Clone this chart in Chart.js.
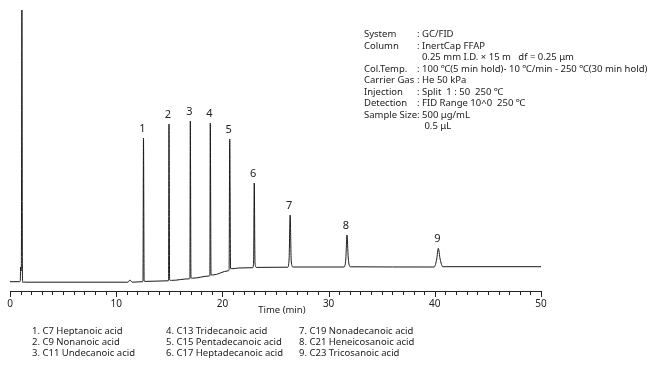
<!DOCTYPE html>
<html>
<head>
<meta charset="utf-8">
<script src="https://cdn.jsdelivr.net/npm/chart.js@4.4.1/dist/chart.umd.min.js"></script>
<style>
  body { margin: 0; background: #fff; }
  #wrap { position: relative; width: 662px; height: 370px; font-family: "Noto Sans", sans-serif; color: #222; }
  #info { position: absolute; left: 364px; top: 28px; font-size: 9.5px; line-height: 11.5px; white-space: nowrap; }
  #info .k { display: inline-block; width: 53px; }
  .leg { position: absolute; top: 325px; font-size: 9.5px; line-height: 11.2px; white-space: nowrap; }
</style>
</head>
<body>
<div id="wrap">
  <canvas id="myChart"></canvas>
  <div id="info"></div>
  <div id="legend1" class="leg" style="left:32px"></div>
  <div id="legend2" class="leg" style="left:166px"></div>
  <div id="legend3" class="leg" style="left:299px"></div>
</div>
<script>
// retention time (min) and detector signal of the trace
const traceTime = [0, 0.9, 0.97, 1.0, 1.04, 1.07, 1.12, 1.17, 1.22, 1.3, 1.4, 5, 11.1, 11.3, 11.5,
  12.45, 12.52, 12.57, 12.63, 12.8,
  14.88, 14.93, 14.97, 15.03, 15.2,
  16.88, 16.94, 16.98, 17.04, 17.2,
  18.76, 18.82, 18.86, 18.93, 19.1,
  20.55, 20.63, 20.69, 20.77, 21.0, 21.5,
  22.85, 22.94, 23.0, 23.07, 23.2,
  26.15, 26.28, 26.38, 26.48, 26.65,
  31.45, 31.62, 31.73, 31.85, 32.05,
  39.95, 40.18, 40.33, 40.5, 40.75, 50];
const traceSignal = [9.3, 9.3, 10, 24, 20, 26, 281, 14, 8.3, 9.2, 8.8, 8.8, 8.8, 11, 8.8,
  9.3, 9.6, 153, 10, 9.6,
  10.2, 10.6, 167, 11, 10.6,
  12.2, 12.6, 170, 13.2, 12.8,
  15.0, 15.5, 168, 16.2, 16.0,
  20.2, 21, 152, 22.5, 22.3, 23,
  23.3, 30, 108, 28, 23.6,
  23.8, 32, 76, 30, 24,
  24, 32, 56, 33, 24.2,
  24, 32, 42.7, 32, 24.3, 24.3];

// peak labels
const peakNames = ["1", "2", "3", "4", "5", "6", "7", "8", "9"];
const peakTimes = [12.57, 14.97, 16.98, 18.86, 20.69, 23.0, 26.38, 31.73, 40.33];
const peakHeights = [153, 167, 170, 168, 152, 108, 76, 56, 42.7];

// axis
const xMin = 0, xMax = 50;
const xTickLabels = [0, 10, 20, 30, 40, 50];
const xTitle = "Time (min)";

const conditionKeys = ["System", "Column", "", "Col.Temp.", "Carrier Gas", "Injection", "Detection", "Sample Size", ""];
const conditionValues = [": GC/FID", ": InertCap FFAP", "\u00a0\u00a00.25 mm I.D. × 15 m\u00a0\u00a0\u00a0df = 0.25 μm",
  ": 100 ℃(5 min hold)- 10 ℃/min - 250 ℃(30 min hold)", ": He 50 kPa", ": Split\u00a0\u00a01 : 50\u00a0\u00a0250 ℃",
  ": FID Range 10^0\u00a0\u00a0250 ℃", ": 500 μg/mL", "\u00a0\u00a0\u00a00.5 μL"];

const compounds = ["1. C7 Heptanoic acid", "2. C9 Nonanoic acid", "3. C11 Undecanoic acid",
  "4. C13 Tridecanoic acid", "5. C15 Pentadecanoic acid", "6. C17 Heptadecanoic acid",
  "7. C19 Nonadecanoic acid", "8. C21 Heneicosanoic acid", "9. C23 Tricosanoic acid"];

// conditions text
let infoHtml = "";
for (let i = 0; i < conditionKeys.length; i++) {
  infoHtml += '<div><span class="k">' + conditionKeys[i] + '</span>' + conditionValues[i] + '</div>';
}
document.getElementById("info").innerHTML = infoHtml;
for (let c = 0; c < 3; c++) {
  document.getElementById("legend" + (c + 1)).innerHTML = compounds.slice(c * 3, c * 3 + 3).join("<br>");
}

const points = traceTime.map((t, i) => ({x: t, y: traceSignal[i]}));

// tick marks + peak numbers + axis title
const extras = {
  id: "extras",
  afterDraw(chart) {
    const ctx = chart.ctx;
    const xs = chart.scales.x, ys = chart.scales.y;
    const y0 = chart.chartArea.bottom;
    ctx.save();
    ctx.strokeStyle = "#222";
    ctx.lineWidth = 1;
    for (let v = xMin; v <= xMax; v++) {
      const px = Math.round(xs.getPixelForValue(v)) + 0.5;
      ctx.beginPath();
      ctx.moveTo(px, y0);
      ctx.lineTo(px, y0 + (v % 10 === 0 ? 6 : 4));
      ctx.stroke();
    }
    ctx.fillStyle = "#222";
    ctx.font = "11px 'Noto Sans'";
    ctx.textAlign = "center";
    ctx.textBaseline = "alphabetic";
    for (let i = 0; i < peakNames.length; i++) {
      ctx.fillText(peakNames[i], xs.getPixelForValue(peakTimes[i]) - 1, ys.getPixelForValue(peakHeights[i]) - 6);
    }
    ctx.font = "9.5px 'Noto Sans'";
    ctx.textBaseline = "middle";
    ctx.fillText(xTitle, xs.getPixelForValue(25.6), 310);
    ctx.restore();
  }
};

new Chart("myChart", {
  type: "line",
  data: {
    datasets: [{
      data: points,
      borderColor: "#1a1a1a",
      borderWidth: 1,
      pointRadius: 0,
      cubicInterpolationMode: "monotone",
      fill: false
    }]
  },
  options: {
    responsive: true,
    maintainAspectRatio: false,
    animation: false,
    layout: {padding: {left: 10, right: 121, top: 10, bottom: 49}},
    plugins: {legend: {display: false}, tooltip: {enabled: false}},
    scales: {
      x: {
        type: "linear",
        min: xMin,
        max: xMax,
        afterFit(scale) { scale.height = 30; },
        ticks: {
          stepSize: 1,
          autoSkip: false,
          maxRotation: 0,
          padding: 2,
          color: "#222",
          font: {family: "Noto Sans", size: 10},
          callback: v => xTickLabels.includes(v) ? v : ""
        },
        grid: {display: true, drawOnChartArea: false, tickLength: 5, tickColor: "rgba(0,0,0,0)"},
        border: {display: true, color: "#222", width: 1}
      },
      y: {display: false, min: 0, max: 281}
    }
  },
  plugins: [extras]
});
</script>
</body>
</html>
